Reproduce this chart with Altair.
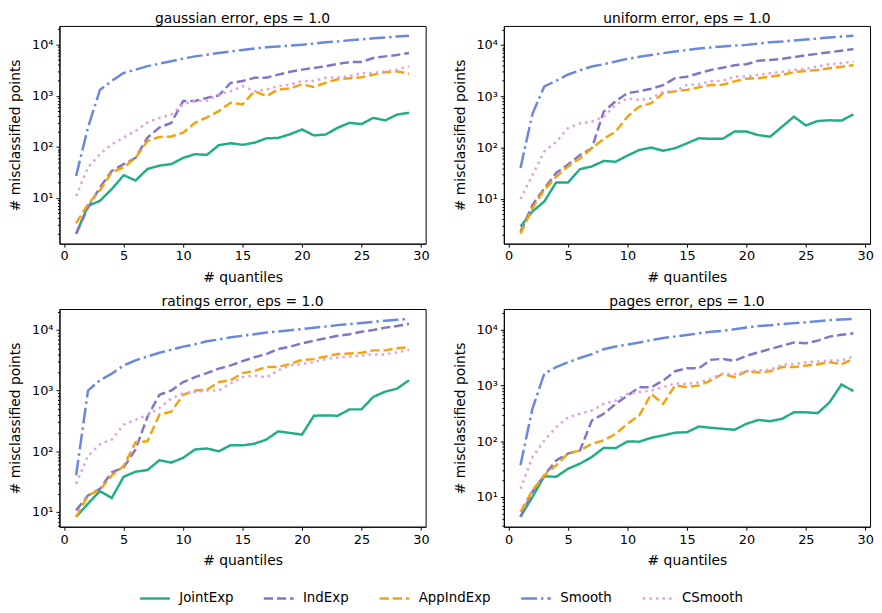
import math
import altair as alt
import pandas as pd

quantiles = list(range(1, 30))
series_names = ["JointExp", "IndExp", "AppIndExp", "Smooth", "CSmooth"]
series_colors = ["#22ad88", "#8474c8", "#f2a30f", "#6a88dc", "#dfa3da"]
series_dashes = [[1, 0], [9.25, 4], [9.25, 4], [16, 4, 2.5, 4], [2.5, 4.1]]

panel_titles = [
    "gaussian error, eps = 1.0",
    "uniform error, eps = 1.0",
    "ratings error, eps = 1.0",
    "pages error, eps = 1.0",
]

# ---- gaussian ----
g_joint = [2, 7, 8.8, 15, 28, 22, 37, 43, 46, 61, 72, 70, 108, 118, 110, 121, 147, 150, 177, 220,
           168, 175, 237, 296, 280, 370, 330, 430, 465]
g_ind = [2, 6.5, 16, 34, 46, 61, 152, 240, 295, 790, 790, 910, 1020, 1780, 1950, 2250, 2250, 2600,
         2950, 3250, 3500, 3800, 4200, 4550, 4600, 5500, 5900, 6300, 6900]
g_app = [3.2, 7.6, 14, 32, 40, 61, 130, 157, 160, 190, 295, 380, 500, 730, 680, 1230, 990, 1320,
         1400, 1670, 1490, 1800, 2100, 2200, 2300, 2600, 2900, 3000, 2700]
g_smooth = [27, 240, 1300, 1950, 2800, 3250, 3800, 4250, 4750, 5350, 5900, 6350, 6900, 7400, 7900,
            8400, 8900, 9200, 9600, 10000, 10500, 11200, 11600, 12200, 12700, 13300, 13800, 14500, 14900]
g_csmooth = [11, 40, 72, 113, 152, 205, 300, 370, 430, 680, 790, 800, 1060, 1230, 1540, 1230, 1320,
             1550, 1650, 1950, 1950, 2250, 2300, 2400, 2800, 2800, 3000, 3250, 3800]

# ---- uniform ----
u_joint = [2.9, 5.7, 8.9, 21, 21, 38, 43, 55, 53, 70, 90, 100, 87, 97, 121, 152, 148, 148, 205, 205,
           175, 163, 255, 400, 270, 330, 340, 335, 445]
u_ind = [2.3, 7.6, 16, 32, 47, 72, 97, 500, 800, 1150, 1250, 1400, 1650, 2250, 2400, 2800, 3250, 3600,
         4000, 4200, 4900, 5100, 5350, 5750, 6300, 6700, 7200, 7700, 8300]
u_app = [2.1, 6.6, 15, 27, 43, 62, 97, 148, 205, 400, 630, 730, 1150, 1250, 1330, 1490, 1650, 1670,
         1950, 2200, 2250, 2400, 2600, 2950, 3100, 3250, 3500, 3750, 4000]
u_smooth = [40, 450, 1550, 2000, 2650, 3200, 3800, 4200, 4750, 5350, 5850, 6350, 6900, 7400, 7900,
            8500, 8900, 9300, 9700, 10000, 10600, 11200, 11600, 12200, 12700, 13300, 13900, 14500, 15000]
u_csmooth = [10, 29, 84, 130, 240, 295, 320, 400, 680, 910, 850, 910, 1230, 1250, 1670, 1700, 1950,
             2000, 2400, 2450, 2600, 2800, 3000, 3250, 3400, 3800, 4200, 4400, 4700]

# ---- ratings ----
r_joint = [8.3, 13.7, 22, 17, 38, 46, 49, 71, 65, 78, 107, 111, 100, 126, 125, 133, 156, 213, 200, 188,
           385, 390, 385, 490, 490, 790, 960, 1080, 1480]
r_ind = [10.6, 18.7, 24, 45, 54, 107, 370, 850, 1000, 1380, 1670, 1940, 2300, 2600, 3050, 3550, 4000,
         4850, 5300, 6000, 6650, 7300, 8000, 8500, 9300, 10000, 10900, 11600, 12600]
r_app = [8.3, 18.7, 23, 40, 57, 141, 146, 400, 450, 850, 1000, 1030, 1380, 1480, 1940, 2100, 2450,
         2450, 2750, 3200, 3300, 3650, 4000, 4100, 4200, 4600, 4600, 5000, 5200]
r_smooth = [40, 1000, 1480, 1900, 2600, 3150, 3650, 4200, 4700, 5300, 5800, 6500, 6950, 7550, 8000,
            8500, 9050, 9400, 9900, 10300, 10900, 11400, 12000, 12500, 13000, 13600, 14200, 14700, 15200]
r_csmooth = [29, 84, 130, 156, 275, 330, 400, 515, 740, 900, 950, 1000, 1000, 1310, 1670, 1780, 1650,
             2150, 2600, 2750, 2950, 3300, 3500, 3650, 3800, 3950, 3950, 4300, 4650]

# ---- pages ----
p_joint = [4.4, 10, 23.5, 23, 32, 39.5, 52, 76, 75, 99, 98, 115, 127, 142, 145, 183, 174, 167, 160,
           205, 240, 228, 252, 330, 330, 318, 500, 1040, 790]
p_ind = [4.4, 12.3, 24.5, 45, 60, 68, 235, 310, 465, 660, 930, 930, 1220, 1800, 2040, 2040, 2870, 3000,
         2760, 3400, 3900, 4500, 5150, 5900, 5700, 6350, 7500, 8100, 8600]
p_app = [5.4, 13, 24.5, 37, 60, 68, 90, 103, 135, 205, 290, 705, 465, 1000, 930, 1000, 1220, 1620,
         1400, 1800, 1700, 1800, 2130, 2130, 2270, 2400, 2600, 2400, 2990]
p_smooth = [37, 380, 1620, 2130, 2600, 3100, 3650, 4450, 5000, 5400, 5900, 6500, 7100, 7500, 8000,
            8600, 9200, 9500, 10200, 10900, 11600, 12000, 12600, 13100, 13600, 14200, 14800, 15200, 15600]
p_csmooth = [14, 52, 103, 178, 270, 310, 355, 465, 535, 705, 760, 810, 930, 1090, 1060, 1130, 1320,
             1620, 1580, 1800, 1850, 1900, 2350, 2400, 2600, 2700, 2800, 2800, 3300]

panel_series = [
    [g_joint, g_ind, g_app, g_smooth, g_csmooth],
    [u_joint, u_ind, u_app, u_smooth, u_csmooth],
    [r_joint, r_ind, r_app, r_smooth, r_csmooth],
    [p_joint, p_ind, p_app, p_smooth, p_csmooth],
]

FONT = "DejaVu Sans"
label_expr = ("datum.value == 1 ? '10⁰' : datum.value == 10 ? '10¹' : datum.value == 100 ? '10²' : "
              "datum.value == 1000 ? '10³' : datum.value == 10000 ? '10⁴' : ''")

def make_panel(title, lists):
    rows = []
    for name, vals in zip(series_names, lists):
        for q, v in zip(quantiles, vals):
            rows.append({"q": q, "series": name, "value": v})
    df = pd.DataFrame(rows)
    lo = math.log10(df["value"].min())
    hi = math.log10(df["value"].max())
    m = 0.05 * (hi - lo)
    dom = [10 ** (lo - m), 10 ** (hi + m)]
    majors = [10 ** k for k in range(0, 6) if dom[0] <= 10 ** k <= dom[1]]
    minors = [mm * 10 ** k for k in range(0, 5) for mm in range(2, 10)
              if dom[0] <= mm * 10 ** k <= dom[1]]
    xs = alt.X("q:Q", title="# quantiles",
               scale=alt.Scale(domain=[-0.4, 30.4], nice=False, zero=False),
               axis=alt.Axis(values=[0, 5, 10, 15, 20, 25, 30], format="d"))
    yscale = alt.Scale(type="log", domain=dom, nice=False)
    lines = alt.Chart(df).mark_line(strokeWidth=2.5).encode(
        x=xs,
        y=alt.Y("value:Q", scale=yscale, title="# misclassified points",
                axis=alt.Axis(values=majors, labelExpr=label_expr, orient="left")),
        color=alt.Color("series:N", scale=alt.Scale(domain=series_names, range=series_colors),
                        sort=series_names, title=None),
        strokeDash=alt.StrokeDash("series:N", scale=alt.Scale(domain=series_names, range=series_dashes),
                                  sort=series_names, title=None),
    )
    minor = alt.Chart(df).mark_line(opacity=0).encode(
        x=xs,
        y=alt.Y("value:Q", scale=yscale, title=None,
                axis=alt.Axis(values=minors, labels=False, tickSize=2, domain=False,
                              orient="left", grid=False)),
        detail="series:N",
    )
    return alt.layer(minor, lines).resolve_axis(y="independent").properties(
        width=370, height=220, title=title)

panels = [make_panel(t, l) for t, l in zip(panel_titles, panel_series)]

chart = alt.vconcat(
    alt.hconcat(panels[0], panels[1], spacing=23),
    alt.hconcat(panels[2], panels[3], spacing=23),
    spacing=9,
).properties(padding=0).configure(font=FONT).configure_view(
    stroke="black", strokeWidth=1
).configure_axis(
    labelFont=FONT, titleFont=FONT, labelFontSize=13, titleFontSize=14,
    labelColor="black", titleColor="black", tickColor="black", domainColor="black",
    tickSize=3.5, labelPadding=3, titlePadding=9, grid=False, titleFontWeight="normal",
    labelFlush=False,
).configure_axisX(
    titlePadding=8
).configure_title(
    font=FONT, fontSize=14, fontWeight="normal", color="black", offset=0.1, anchor="middle"
).configure_legend(
    orient="none", legendX=80, legendY=562, direction="horizontal",
    labelFont=FONT, labelFontSize=13.5, labelColor="black",
    symbolType="stroke", symbolSize=900, symbolStrokeWidth=2.5,
    labelOffset=8, columnPadding=25, padding=0,
)

chart.save("out.html", embed_options={"renderer": "svg", "actions": False})
